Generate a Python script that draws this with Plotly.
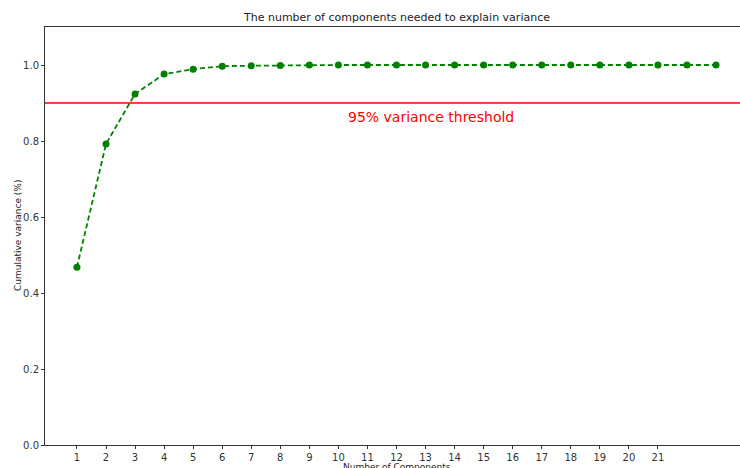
import plotly.graph_objects as go

components = list(range(1, 24))
cum_variance = [0.468, 0.792, 0.924, 0.976, 0.989, 0.997, 0.998, 0.999, 1.0, 1.0,
                1.0, 1.0, 1.0, 1.0, 1.0, 1.0, 1.0, 1.0, 1.0, 1.0, 1.0, 1.0, 1.0]
x_ticks = list(range(1, 22))
y_ticks = [0.0, 0.2, 0.4, 0.6, 0.8, 1.0]
threshold = 0.9
threshold_label = "95% variance threshold"

font = "DejaVu Sans"
fig = go.Figure()
fig.add_trace(go.Scatter(
    x=components, y=cum_variance, mode="lines+markers",
    line=dict(color="green", dash="5px,3px", width=1.8),
    marker=dict(color="green", size=7),
    showlegend=False,
))
fig.add_shape(type="line", xref="paper", yref="y", x0=0, x1=1, y0=threshold, y1=threshold,
              line=dict(color="red", width=1.5))
fig.add_annotation(x=13.2, y=0.863, xref="x", yref="y", text=threshold_label,
                   showarrow=False, font=dict(family=font, size=14, color="red"))
fig.add_annotation(x=0.5, y=1, xref="paper", yref="paper", yshift=1, yanchor="bottom",
                   text="The number of components needed to explain variance",
                   showarrow=False, font=dict(family=font, size=11, color="#222"))
fig.add_annotation(x=0.5, y=0, xref="paper", yref="paper", yshift=-15, yanchor="top",
                   text="Number of Components",
                   showarrow=False, font=dict(family=font, size=9, color="#222"))
fig.add_annotation(x=0, y=0.5, xref="paper", yref="paper", xshift=-27, xanchor="center",
                   text="Cumulative variance (%)", textangle=-90,
                   showarrow=False, font=dict(family=font, size=9, color="#222"))

fig.update_layout(
    width=748, height=468,
    margin=dict(l=45, r=0, t=27, b=23, autoexpand=False),
    plot_bgcolor="white", paper_bgcolor="white",
    font=dict(family=font, size=10, color="#333"),
)
fig.update_xaxes(range=[-0.1, 24.1], tickmode="array", tickvals=x_ticks,
                 ticks="outside", ticklen=3, tickcolor="#333", automargin=False,
                 showline=True, linecolor="#333", linewidth=1, mirror=True,
                 showgrid=False, zeroline=False)
fig.update_yaxes(range=[0, 1.1], tickmode="array", tickvals=y_ticks,
                 ticktext=[f"{v:.1f}" for v in y_ticks], automargin=False,
                 ticks="outside", ticklen=3, tickcolor="#333",
                 showline=True, linecolor="#333", linewidth=1, mirror=False,
                 showgrid=False, zeroline=False)

fig.write_html("out.html", config={"displayModeBar": False},
               post_script="document.body.style.margin='0';document.body.style.overflow='hidden';")
